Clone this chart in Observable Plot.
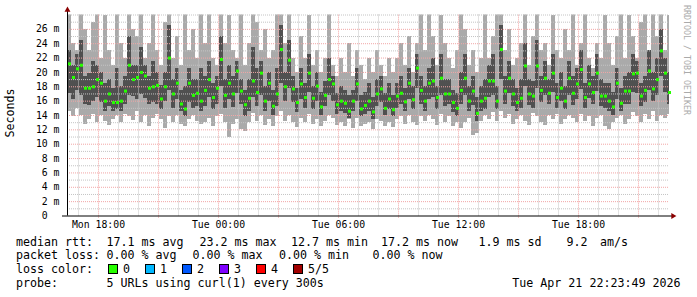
<!DOCTYPE html>
<html><head><meta charset="utf-8">
<script src="https://cdn.jsdelivr.net/npm/d3@7"></script>
<script src="https://cdn.jsdelivr.net/npm/@observablehq/plot@0.6"></script>
<style>
body{margin:0;background:#fff;}
#wrap{position:relative;width:697px;height:297px;overflow:hidden;font-family:"DejaVu Sans Mono",monospace;color:#000;background:#fff;}
#wrap svg{position:absolute;left:0;top:0;}
.t{position:absolute;white-space:pre;font-size:11.65px;line-height:14px;}
.sw{position:absolute;width:8px;height:8px;border:1px solid #000;}
.wm{position:absolute;writing-mode:vertical-rl;font-size:8.3px;line-height:10px;color:#aaaaaa;white-space:pre;}
</style></head><body><div id="wrap"></div>
<script>
// ---- data (values in milliseconds) ----
const startTime = new Date(2026, 3, 20, 16, 27);
const endTime = new Date(2026, 3, 21, 22, 33);
const stepMinutes = 12;

const median = [
21.2,19.3,20.5,21.0,17.8,17.8,18.0,19.0,18.5,16.0,
17.0,15.8,15.8,16.0,17.4,21.0,19.0,19.3,20.0,19.5,
17.8,18.0,18.2,16.3,18.0,22.0,17.0,18.5,15.6,14.9,
18.5,16.8,17.1,16.0,17.5,19.0,16.5,17.8,21.8,16.8,
18.5,17.0,20.2,17.4,15.5,16.4,18.8,17.2,19.9,16.0,
18.5,15.3,17.0,23.2,18.0,21.7,17.7,15.8,18.4,16.5,
19.9,16.4,18.1,15.2,16.8,19.0,18.4,15.5,16.0,15.7,
14.6,16.0,18.4,14.9,15.4,16.0,14.5,17.0,17.7,15.0,
16.3,14.8,16.7,17.1,15.9,18.5,16.2,20.6,17.5,16.0,
18.5,18.8,16.5,19.2,17.0,17.0,15.8,15.0,17.5,19.2,
16.0,17.4,14.3,16.0,16.4,18.8,18.8,16.0,23.2,17.4,
19.2,17.0,15.8,16.4,20.9,17.0,16.7,20.9,17.5,19.2,
17.1,19.9,16.5,17.8,16.0,19.2,17.1,18.4,20.4,16.5,
18.4,17.2,19.9,16.7,16.7,16.0,15.2,18.5,15.7,17.4,
17.4,19.8,19.9,16.7,17.5,20.2,17.7,19.0,23.0,19.9,
17.2];

const smokeMax = [
30,24,23,30,26,23,27,30,22,28, 23,21,30,24,22,30,26,25,30,22, 24,30,23,21,27,30,22,25,21,30, 23,26,22,30,
24,30,22,21,30,24,28,23,22,30, 21,24,30,27,23,26,22,23,30,30, 24,30,22,20,25,
22,28,21,23,20,22,30,21,19.5,22, 20,24,19.5,23,21,19,22,20,23,21, 19.5,22,20,22,24,21,25,20,24,30,
23,30,25,21,28,24,22,20.5,23,30, 26,21,23,20,22,30,22,25,30,30, 23,26,21,22,24,30,21,25,30,23,
24,21,28,23,22,26,23,30,21,24, 30,22,20.5,24,22,28,24,21,25,30, 22,28,25,22,27,30,23,30,25,30, 23,28];

const smokeMin = [
14.5,13.8,15.0,14.0,12.8,13.5,14.2,13.0,14.0,13.2, 12.6,13.5,14.0,13.0,14.2,13.8,13.3,14.5,13.0,14.0, 12.5,13.6,14.2,13.4,12.2,13.8,13.0,14.0,12.8,12.5, 13.5,14.0,13.2,12.8,
13.0,13.6,12.5,13.8,14.2,13.0,11.0,12.8,13.4,12.0, 11.8,13.0,14.3,13.2,14.0,12.6,13.5,12.4,13.8,14.5, 13.2,14.0,13.0,12.3,13.6,
13.0,14.2,12.8,13.5,12.5,13.2,14.0,13.6,12.6,13.0, 12.4,13.4,12.2,13.6,12.4,12.8,13.0,12.0,13.5,13.2, 12.5,13.0,12.3,13.4,13.8,12.8,14.0,13.0,12.6,13.8,
13.2,14.0,13.5,12.6,14.2,13.0,13.8,12.4,13.0,12.2, 13.0,13.6,11.2,11.5,13.2,14.0,13.4,14.4,13.2,14.5, 13.6,14.2,12.8,13.5,14.0,13.2,12.6,14.3,13.8,13.0,
12.6,14.0,13.4,14.2,12.8,13.5,14.0,13.6,13.0,14.2, 13.2,13.8,12.4,13.6,14.0,12.5,12.0,13.0,13.6,14.0, 12.8,13.4,14.4,13.8,13.0,14.2,13.5,14.5,13.2,14.0, 13.6,14.2];

const smokeQ1 = [
17.0,16.2,17.5,16.8,15.6,15.4,16.0,16.5,15.8,14.6, 15.2,14.5,14.8,14.6,15.5,16.8,16.6,16.2,16.9,16.4, 15.6,15.8,15.6,14.8,15.9,17.5,15.0,16.2,14.5,13.9, 15.8,15.0,15.2,14.5,
15.2,16.5,14.8,15.6,18.0,15.0,16.2,15.1,17.0,15.5, 13.8,14.6,16.5,15.3,16.8,14.6,16.0,14.0,15.2,18.5, 16.0,17.8,15.8,14.4,16.2,
15.0,17.2,14.8,16.0,14.0,15.2,16.8,16.0,14.2,14.6, 14.3,13.6,14.5,16.0,13.8,14.2,14.6,13.5,15.2,15.8, 14.0,14.8,13.8,15.0,15.5,14.6,16.2,14.8,17.8,15.6,
14.6,16.2,16.5,14.8,16.8,15.2,15.5,14.4,13.8,15.6, 16.8,14.5,15.4,13.2,14.6,14.8,16.5,16.8,14.8,19.0, 15.6,17.0,15.2,14.6,15.0,18.0,15.4,15.0,17.8,15.8,
16.8,15.5,17.2,15.0,16.0,14.8,16.8,15.4,16.2,17.6, 15.0,16.4,15.6,17.4,15.2,15.0,14.6,14.0,16.2,14.6, 15.6,15.5,17.2,17.0,15.2,15.8,17.5,15.9,16.8,19.5, 17.2,15.6];

const smokeQ3 = [
23.0,21.0,22.5,24.5,19.5,19.8,21.5,21.0,20.0,18.5, 19.0,17.8,20.5,18.0,19.5,25.0,21.0,21.0,23.5,21.0, 19.5,21.5,20.0,18.2,20.0,26.5,19.0,20.5,17.5,18.0, 20.5,19.0,19.0,20.5,
19.5,21.5,18.5,19.5,25.0,19.0,21.0,19.5,21.5,19.0, 17.5,19.0,23.5,20.5,21.5,18.0,20.0,17.5,20.5,26.5, 20.0,24.5,19.5,17.8,20.5,
18.5,22.5,18.0,20.0,17.2,18.8,22.0,19.5,17.0,18.0, 17.5,16.8,17.5,20.5,16.8,17.2,18.5,16.5,19.0,19.5, 17.0,18.5,16.8,18.5,19.5,17.8,20.5,18.0,22.5,19.5,
18.0,20.5,22.0,18.0,22.5,19.0,19.0,17.5,17.0,20.0, 22.5,18.0,19.5,16.5,18.0,19.0,21.0,22.5,18.0,26.5, 19.5,21.5,19.0,17.8,19.0,24.0,19.0,18.8,24.5,19.5,
21.5,19.0,22.5,18.5,20.0,18.0,21.5,19.5,20.5,23.0, 18.5,21.0,19.5,22.5,19.0,18.5,18.5,17.2,20.5,17.8, 19.5,20.0,22.5,21.5,18.5,19.5,23.0,20.0,22.0,26.0, 22.0,20.0];

const yTickValues = [0,2,4,6,8,10,12,14,16,18,20,22,24,26];
const yTickLabels = ["0\u00a0\u00a0","2 m","4 m","6 m","8 m","10 m","12 m","14 m","16 m","18 m","20 m","22 m","24 m","26 m"];
const yMinorGrid = [1,3,5,7,9,11,13,15,17,19,21,23,25,27,28];
const yMajorGrid = [2,4,6,8,10,12,14,16,18,20,22,24,26];

const xTickTimes = [new Date(2026,3,20,18), new Date(2026,3,21,0), new Date(2026,3,21,6), new Date(2026,3,21,12), new Date(2026,3,21,18)];
const xTickLabels = ["Mon 18:00","Tue 00:00","Tue 06:00","Tue 12:00","Tue 18:00"];

const lossColors = ["#26ff00","#00b8ff","#0059ff","#7e00ff","#ff0000","#a10000"];
const lossLabels = ["0","1","2","3","4","5/5"];

// ---- build ----
const step = stepMinutes * 60000;
const rows = median.map((m, i) => ({
  t0: new Date(+startTime + i * step),
  t1: new Date(+startTime + (i + 1) * step),
  med: m, lo: smokeMin[i], hi: smokeMax[i], q1: smokeQ1[i], q3: smokeQ3[i]
}));
const hourGrid = d3.timeHour.range(new Date(2026,3,20,17), endTime);
const xMinorGrid = hourGrid.filter(d => d.getHours() % 3 !== 0);
const xMajorGrid = hourGrid.filter(d => d.getHours() % 3 === 0);
const minute = 60000;

const chart = Plot.plot({
  width: 697, height: 232,
  marginLeft: 67, marginRight: 28, marginTop: 14.5, marginBottom: 16.5,
  x: {type: "time", domain: [startTime, endTime]},
  y: {domain: [0, 28]},
  style: {fontFamily: "DejaVu Sans Mono", fontSize: "9.8px", background: "#fff", color: "#000", overflow: "visible"},
  marks: [
    Plot.rect(rows, {x1: "t0", x2: "t1", y1: "lo", y2: "hi", fill: "#aaaaaa", clip: true, shapeRendering: "crispEdges"}),
    Plot.rect(rows, {x1: "t0", x2: "t1", y1: "q1", y2: "q3", fill: "#505050", clip: true, shapeRendering: "crispEdges"}),
    Plot.ruleY(yMinorGrid, {stroke: "#c4c4c4", strokeDasharray: "1,1"}),
    Plot.ruleY(yMajorGrid, {stroke: "#f2a6a6", strokeDasharray: "1,1"}),
    Plot.ruleX(xMinorGrid, {stroke: "#c4c4c4", strokeDasharray: "1,1"}),
    Plot.ruleX(xMajorGrid, {y1: -0.3, y2: 28, stroke: "#f2a6a6", strokeDasharray: "1,1"}),
    Plot.dot(rows, {x: d => new Date((+d.t0 + +d.t1) / 2), y: "med", symbol: "square", r: 1.7, fill: "#26ff00", stroke: null}),
    Plot.ruleY([0], {x1: new Date(+startTime - 15 * minute), x2: new Date(+endTime + 9 * minute), stroke: "#000"}),
    Plot.ruleX([startTime], {y1: 0, y2: 28.6, stroke: "#000"}),
    Plot.dot([0], {x: () => new Date(+endTime + 10.5 * minute), y: 0, symbol: "triangle", rotate: 90, r: 2.2, fill: "#8b0000", stroke: null}),
    Plot.dot([0], {x: () => startTime, y: 28.7, symbol: "triangle", r: 2.2, fill: "#8b0000", stroke: null}),
    Plot.axisY(yTickValues, {tickSize: 0, tickPadding: 8, tickFormat: d => yTickLabels[yTickValues.indexOf(d)], label: null}),
    Plot.axisX(xTickTimes, {tickSize: 0, tickPadding: 5, tickFormat: d => xTickLabels[xTickTimes.findIndex(t => +t === +d)], label: null})
  ]
});

const wrap = document.getElementById("wrap");
wrap.appendChild(chart);

d3.select(chart).append("text")
  .attr("transform", "translate(14,113) rotate(-90)")
  .attr("text-anchor", "middle")
  .attr("font-family", "DejaVu Sans Mono")
  .attr("font-size", "11.65px")
  .attr("fill", "#000")
  .text("Seconds");

function addText(x, top, s, extra) {
  const d = document.createElement("div");
  d.className = "t";
  d.style.left = x + "px";
  d.style.top = top + "px";
  if (extra) Object.assign(d.style, extra);
  d.textContent = s;
  wrap.appendChild(d);
  return d;
}
const legendRows = [
  [[16,"median rtt:"],[106.5,"17.1 ms avg"],[199.5,"23.2 ms max"],[291,"12.7 ms min"],[381,"17.2 ms now"],[478.5,"1.9 ms sd"],[566.5,"9.2"],[600,"am/s"]],
  [[16,"packet loss:"],[106.5,"0.00 % avg"],[192.5,"0.00 % max"],[279,"0.00 % min"],[372.5,"0.00 % now"]],
  [[16,"loss color:"]],
  [[16,"probe:"],[106.5,"5 URLs using curl(1) every 300s"]]
];
const rowTops = [234.5, 248, 262, 276];
legendRows.forEach((r, j) => r.forEach(([x, s]) => addText(x, rowTops[j], s)));

lossColors.forEach((c, i) => {
  const sw = document.createElement("div");
  sw.className = "sw";
  sw.style.left = (107.5 + 37.1 * i) + "px";
  sw.style.top = "264px";
  sw.style.background = c;
  wrap.appendChild(sw);
  addText(123 + 37 * i, rowTops[2], lossLabels[i]);
});

addText(0, rowTops[3], "Tue Apr 21 22:23:49 2026", {left: "auto", right: "16.5px"});

const wm = document.createElement("div");
wm.className = "wm";
wm.style.left = "682px";
wm.style.top = "5px";
wm.textContent = "RRDTOOL / TOBI OETIKER";
wrap.appendChild(wm);
</script></body></html>
